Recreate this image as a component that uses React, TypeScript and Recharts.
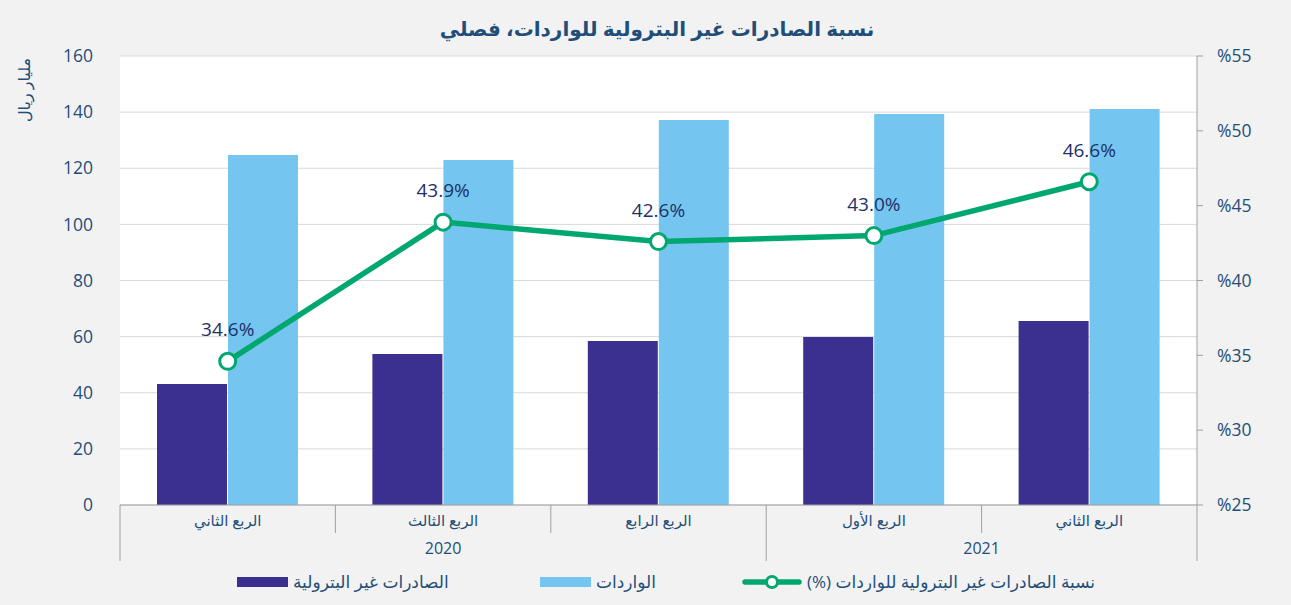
import React from "react";
import {
  ComposedChart,
  Bar,
  Line,
  XAxis,
  YAxis,
  CartesianGrid,
  LabelList,
  Legend,
} from "recharts";

const quarters = ["الربع الثاني", "الربع الثالث", "الربع الرابع", "الربع الأول", "الربع الثاني"];
const years = ["2020", "2020", "2020", "2021", "2021"];
const nonOilExports = [43.1, 53.8, 58.4, 59.9, 65.6];
const imports = [124.7, 122.9, 137.2, 139.3, 141.1];
const ratio = [34.6, 43.9, 42.6, 43.0, 46.6];
const leftTicks = [0, 20, 40, 60, 80, 100, 120, 140, 160];
const rightTicks = [25, 30, 35, 40, 45, 50, 55];

const TITLE = "نسبة الصادرات غير البترولية للواردات، فصلي";
const LEFT_LABEL = "مليار ريال";
const S_EXPORTS = "الصادرات غير البترولية";
const S_IMPORTS = "الواردات";
const S_RATIO = "نسبة الصادرات غير البترولية للواردات (%)";

const data = quarters.map((q, i) => ({
  quarter: q,
  year: years[i],
  exports: nonOilExports[i],
  imports: imports[i],
  ratio: ratio[i],
}));

const W = 1291;
const H = 605;
const LEFT_W = 120;
const RIGHT_W = 94;
const TOP = 56;
const BOTTOM = 44;
const ROW_H = 28;
const BAND = (W - LEFT_W - RIGHT_W) / quarters.length;

const C_DARK = "#3b2f8f";
const C_LIGHT = "#74c6f0";
const C_GREEN = "#00a86f";
const C_TEXT = "#1f4e79";
const C_LABEL = "#1f3068";
const C_AXIS = "#a0a0a0";
const FONT = "'Open Sans', 'Noto Sans', 'DejaVu Sans', sans-serif";

const QuarterTick = (props: any) => {
  const { x, y, payload, index } = props;
  const i = payload?.index ?? index;
  const left = x - BAND / 2;
  const right = x + BAND / 2;
  return (
    <g>
      <line x1={left} x2={left} y1={y} y2={y + ROW_H} stroke={C_AXIS} strokeWidth={1} />
      {i === quarters.length - 1 && (
        <line x1={right} x2={right} y1={y} y2={y + ROW_H} stroke={C_AXIS} strokeWidth={1} />
      )}
      <text
        x={x}
        y={y + ROW_H / 2 + 1}
        textAnchor="middle"
        dominantBaseline="central"
        fontSize={15}
        fill={C_TEXT}
        fontFamily={FONT}
        direction="rtl"
      >
        {payload.value}
      </text>
    </g>
  );
};

const YearTick = (props: any) => {
  const { x, y, payload, index } = props;
  const i = payload?.index ?? index;
  const isStart = i === 0 || years[i] !== years[i - 1];
  const isLast = i === years.length - 1;
  let groupSize = 0;
  if (isStart) {
    let j = i;
    while (j < years.length && years[j] === years[i]) {
      groupSize++;
      j++;
    }
  }
  const left = x - BAND / 2;
  return (
    <g>
      {isStart && <line x1={left} x2={left} y1={y} y2={y + ROW_H} stroke={C_AXIS} strokeWidth={1} />}
      {isLast && (
        <line x1={x + BAND / 2} x2={x + BAND / 2} y1={y} y2={y + ROW_H} stroke={C_AXIS} strokeWidth={1} />
      )}
      {isStart && (
        <text
          x={left + (groupSize * BAND) / 2}
          y={y + ROW_H / 2 + 1}
          textAnchor="middle"
          dominantBaseline="central"
          fontSize={16}
          fill={C_TEXT}
          fontFamily={FONT}
        >
          {payload.value}
        </text>
      )}
    </g>
  );
};

const LegendContent = () => {
  const item: React.CSSProperties = { display: "flex", alignItems: "center" };
  const txt: React.CSSProperties = {
    fontSize: 17,
    color: C_TEXT,
    fontFamily: FONT,
    direction: "rtl",
    marginLeft: 5,
    whiteSpace: "nowrap",
  };
  return (
    <div style={{ position: "relative", width: W, height: 30 }}>
      <div style={{ ...item, position: "absolute", left: 237, top: 0 }}>
        <span style={{ display: "inline-block", width: 51, height: 10, background: C_DARK }} />
        <span style={txt}>{S_EXPORTS}</span>
      </div>
      <div style={{ ...item, position: "absolute", left: 540, top: 0 }}>
        <span style={{ display: "inline-block", width: 51, height: 10, background: C_LIGHT }} />
        <span style={txt}>{S_IMPORTS}</span>
      </div>
      <div style={{ ...item, position: "absolute", left: 742, top: 0 }}>
        <svg width={60} height={18}>
          <line x1={3} x2={57} y1={9} y2={9} stroke={C_GREEN} strokeWidth={5.5} strokeLinecap="round" />
          <circle cx={30} cy={9} r={5.5} fill="#fff" stroke={C_GREEN} strokeWidth={3} />
        </svg>
        <span style={txt}>{S_RATIO}</span>
      </div>
    </div>
  );
};

const LeftLabel = (props: any) => {
  const vb = props.viewBox || { x: 0, y: TOP };
  const cx = vb.x + 24;
  const cy = vb.y + 34;
  return (
    <text
      x={cx}
      y={cy}
      transform={`rotate(-90, ${cx}, ${cy})`}
      textAnchor="middle"
      dominantBaseline="central"
      fontSize={16}
      fill={C_TEXT}
      fontFamily={FONT}
      direction="rtl"
    >
      {LEFT_LABEL}
    </text>
  );
};

export default function App() {
  return (
    <div
      style={{
        position: "absolute",
        left: 0,
        top: 0,
        width: W,
        height: H,
        background: "#f2f2f2",
        overflow: "hidden",
      }}
    >
      <div
        style={{
          position: "absolute",
          left: 657,
          top: 15,
          transform: "translateX(-50%)",
          fontSize: 20,
          fontWeight: "bold",
          color: C_TEXT,
          fontFamily: FONT,
          direction: "rtl",
          whiteSpace: "nowrap",
        }}
      >
        {TITLE}
      </div>
      <ComposedChart
        width={W}
        height={H}
        data={data}
        margin={{ top: TOP, right: 0, bottom: BOTTOM, left: 0 }}
        barCategoryGap={37}
        barGap={1}
      >
        <CartesianGrid yAxisId="left" vertical={false} stroke="#d9d9d9" fill="#ffffff" />
        <XAxis
          dataKey="quarter"
          xAxisId="q"
          height={ROW_H}
          interval={0}
          tickLine={false}
          tickSize={0}
          tickMargin={0}
          axisLine={{ stroke: C_AXIS }}
          tick={<QuarterTick />}
        />
        <XAxis
          dataKey="year"
          xAxisId="y"
          height={ROW_H}
          interval={0}
          tickLine={false}
          tickSize={0}
          tickMargin={0}
          axisLine={false}
          tick={<YearTick />}
        />
        <YAxis
          yAxisId="left"
          width={LEFT_W}
          domain={[0, 160]}
          ticks={leftTicks}
          axisLine={false}
          tickLine={false}
          tickSize={0}
          tickMargin={27}
          tick={{ fontSize: 17.5, fill: C_TEXT, fontFamily: FONT }}
          label={<LeftLabel />}
        />
        <YAxis
          yAxisId="right"
          orientation="right"
          width={RIGHT_W}
          domain={[25, 55]}
          ticks={rightTicks}
          axisLine={{ stroke: C_AXIS }}
          tickLine={{ stroke: C_AXIS }}
          tickSize={6}
          tickMargin={14}
          tickFormatter={(v: number) => "%" + v}
          tick={{ fontSize: 17.5, fill: C_TEXT, fontFamily: FONT }}
        />
        <Bar
          dataKey="exports"
          name={S_EXPORTS}
          xAxisId="q"
          yAxisId="left"
          fill={C_DARK}
          isAnimationActive={false}
        />
        <Bar
          dataKey="imports"
          name={S_IMPORTS}
          xAxisId="q"
          yAxisId="left"
          fill={C_LIGHT}
          isAnimationActive={false}
        />
        <Line
          dataKey="ratio"
          name={S_RATIO}
          xAxisId="q"
          yAxisId="right"
          stroke={C_GREEN}
          strokeWidth={5.5}
          dot={{ r: 8, fill: "#fff", stroke: C_GREEN, strokeWidth: 3 }}
          activeDot={false}
          isAnimationActive={false}
        >
          <LabelList
            dataKey="ratio"
            position="top"
            offset={25}
            formatter={(v: any) => Number(v).toFixed(1) + "%"}
            style={{ fontSize: 19, fill: C_LABEL, fontFamily: FONT }}
          />
        </Line>
        <Legend
          layout="horizontal"
          verticalAlign="middle"
          align="center"
          wrapperStyle={{ top: 570, left: 0, width: W, height: 30 }}
          content={<LegendContent />}
        />
      </ComposedChart>
    </div>
  );
}
